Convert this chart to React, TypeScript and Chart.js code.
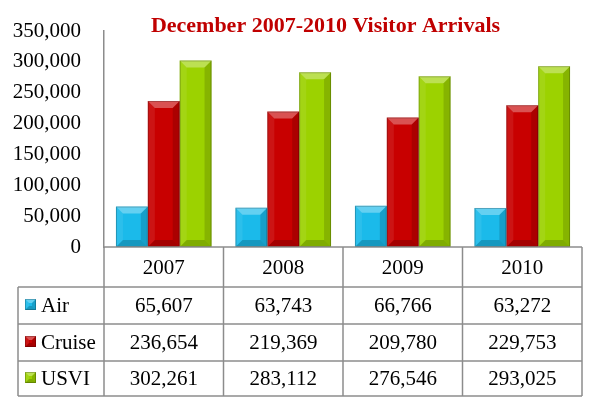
import React, { useEffect, useRef } from "react";
import { Chart, registerables } from "chart.js";

Chart.register(...registerables);

const titleText = "December 2007-2010 Visitor Arrivals";
const categories = ["2007", "2008", "2009", "2010"];
const seriesNames = ["Air", "Cruise", "USVI"];
const airValues = [65607, 63743, 66766, 63272];
const cruiseValues = [236654, 219369, 209780, 229753];
const usviValues = [302261, 283112, 276546, 293025];
const seriesColors = ["#1BBAEA", "#C80000", "#9CD200"];
const yMax = 350000;
const yStep = 50000;

const FONT = '"Liberation Serif", "Times New Roman", serif';
const fmt = (v: number) => v.toLocaleString("en-US");

function drawBevel(ctx: CanvasRenderingContext2D, l: number, t: number, r: number, b: number, size: number) {
  const h = b - t;
  const w = r - l;
  const s = Math.min(size, h / 2, w / 2);
  const poly = (pts: number[][], fill: string) => {
    ctx.beginPath();
    ctx.moveTo(pts[0][0], pts[0][1]);
    for (let i = 1; i < pts.length; i++) ctx.lineTo(pts[i][0], pts[i][1]);
    ctx.closePath();
    ctx.fillStyle = fill;
    ctx.fill();
  };
  poly([[l, t], [r, t], [r - s, t + s], [l + s, t + s]], "rgba(255,255,255,0.32)");
  poly([[l, b], [r, b], [r - s, b - s], [l + s, b - s]], "rgba(0,0,0,0.18)");
  poly([[l, t], [l + s, t + s], [l + s, b - s], [l, b]], "rgba(255,255,255,0.08)");
  poly([[r, t], [r - s, t + s], [r - s, b - s], [r, b]], "rgba(0,0,0,0.14)");
  ctx.strokeStyle = "rgba(0,0,0,0.22)";
  ctx.lineWidth = 1;
  ctx.strokeRect(l + 0.5, t + 0.5, w - 1, h - 1);
}

const bevelPlugin = {
  id: "bevel",
  afterDatasetsDraw(chart: any) {
    const ctx = chart.ctx as CanvasRenderingContext2D;
    ctx.save();
    chart.data.datasets.forEach((_: any, i: number) => {
      const meta = chart.getDatasetMeta(i);
      meta.data.forEach((el: any) => {
        const p = el.getProps(["x", "y", "base", "width"], true);
        drawBevel(ctx, p.x - p.width / 2, p.y, p.x + p.width / 2, p.base, 7);
      });
    });
    ctx.restore();
  },
};

const tablePlugin = {
  id: "dataTable",
  afterDraw(chart: any) {
    const ctx = chart.ctx as CanvasRenderingContext2D;
    const { left, right, bottom } = chart.chartArea;
    const rowHeights = [40, 37, 37, 35];
    const rows = [bottom];
    rowHeights.forEach((h) => rows.push(rows[rows.length - 1] + h));
    const colW = (right - left) / categories.length;
    const tableLeft = 18;
    const values = [airValues, cruiseValues, usviValues];

    ctx.save();
    // title
    ctx.font = `bold 22px ${FONT}`;
    ctx.fillStyle = "#C00000";
    ctx.textAlign = "center";
    ctx.textBaseline = "alphabetic";
    ctx.fillText(titleText, 325.5, 31.5);

    // grid lines
    ctx.strokeStyle = "#8c8c8c";
    ctx.lineWidth = 1.5;
    const line = (x1: number, y1: number, x2: number, y2: number) => {
      ctx.beginPath();
      ctx.moveTo(x1, y1);
      ctx.lineTo(x2, y2);
      ctx.stroke();
    };
    line(left, rows[0], right, rows[0]);
    for (let i = 1; i < rows.length; i++) line(tableLeft, rows[i], right, rows[i]);
    for (let c = 0; c <= categories.length; c++) line(left + c * colW, rows[0], left + c * colW, rows[rows.length - 1]);
    line(tableLeft, rows[1], tableLeft, rows[rows.length - 1]);

    // text
    ctx.font = `21px ${FONT}`;
    ctx.fillStyle = "#000";
    ctx.textBaseline = "middle";
    ctx.textAlign = "center";
    categories.forEach((c, i) => {
      ctx.fillText(c, left + (i + 0.5) * colW, (rows[0] + rows[1]) / 2 + 1);
    });
    values.forEach((vals, s) => {
      const cy = (rows[s + 1] + rows[s + 2]) / 2 + 1;
      vals.forEach((v, i) => {
        ctx.fillText(fmt(v), left + (i + 0.5) * colW, cy);
      });
    });
    // legend keys
    ctx.textAlign = "left";
    seriesNames.forEach((name, s) => {
      const cy = (rows[s + 1] + rows[s + 2]) / 2;
      const sx = tableLeft + 7;
      const sz = 11;
      ctx.fillStyle = seriesColors[s];
      ctx.fillRect(sx, cy - sz / 2 - 1, sz, sz);
      drawBevel(ctx, sx, cy - sz / 2 - 1, sx + sz, cy + sz / 2 - 1, 4);
      ctx.fillStyle = "#000";
      ctx.fillText(name, tableLeft + 23, cy + 1);
    });
    ctx.restore();
  },
};

export default function App() {
  const ref = useRef<HTMLCanvasElement | null>(null);
  useEffect(() => {
    document.body.style.margin = "0";
    const canvas = ref.current;
    if (!canvas) return;
    const chart = new Chart(canvas, {
      type: "bar",
      data: {
        labels: categories,
        datasets: [
          { label: seriesNames[0], data: airValues, backgroundColor: seriesColors[0] },
          { label: seriesNames[1], data: cruiseValues, backgroundColor: seriesColors[1] },
          { label: seriesNames[2], data: usviValues, backgroundColor: seriesColors[2] },
        ],
      },
      options: {
        responsive: false,
        animation: false,
        devicePixelRatio: 1,
        datasets: { bar: { categoryPercentage: 0.8, barPercentage: 1.0 } },
        layout: { padding: { left: 0, right: 7, top: 31, bottom: 155 } },
        plugins: {
          legend: { display: false },
          title: { display: false },
          tooltip: { enabled: false },
        },
        scales: {
          x: { display: false },
          y: {
            min: 0,
            max: yMax,
            grid: { display: false, drawTicks: false, tickLength: 0 },
            border: { display: true, color: "#8c8c8c", width: 1.5 },
            ticks: {
              stepSize: yStep,
              padding: 23,
              color: "#000",
              font: { family: FONT, size: 21 },
              callback: (v: any) => fmt(Number(v)),
            },
            afterFit: (scale: any) => {
              scale.width = 104;
              scale.paddingTop = 12;
              scale.paddingBottom = 12;
            },
          },
        },
      },
      plugins: [bevelPlugin, tablePlugin],
    });
    return () => chart.destroy();
  }, []);
  return <canvas ref={ref} width={589} height={402} style={{ display: "block", width: 589, height: 402 }} />;
}
